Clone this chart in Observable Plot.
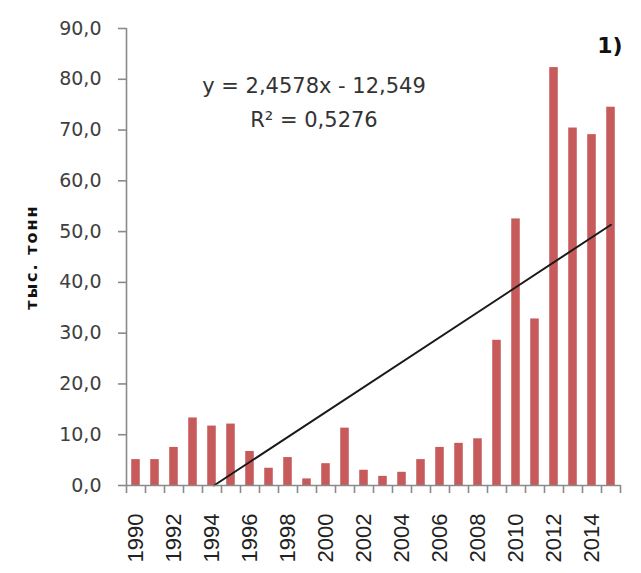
<!DOCTYPE html>
<html>
<head>
<meta charset="utf-8">
<script src="https://cdn.jsdelivr.net/npm/d3@7"></script>
<script src="https://cdn.jsdelivr.net/npm/@observablehq/plot@0.6"></script>
<style>
  body { margin: 0; background: #fff; }
</style>
</head>
<body>
<div id="chart"></div>
<script>
// Annual volumes, thousand tonnes
const years = [1990, 1991, 1992, 1993, 1994, 1995, 1996, 1997, 1998, 1999, 2000, 2001, 2002,
               2003, 2004, 2005, 2006, 2007, 2008, 2009, 2010, 2011, 2012, 2013, 2014, 2015];
const values = [5.1, 5.1, 7.5, 13.3, 11.7, 12.1, 6.7, 3.4, 5.5, 1.3, 4.3, 11.3, 3.0,
                1.8, 2.6, 5.1, 7.5, 8.3, 9.2, 28.6, 52.5, 32.8, 82.3, 70.4, 69.1, 74.5];
const yTicks = [0, 10, 20, 30, 40, 50, 60, 70, 80, 90];
const yearLabels = [1990, 1992, 1994, 1996, 1998, 2000, 2002, 2004, 2006, 2008, 2010, 2012, 2014];

// Linear trend (x = 1 for the first year)
const trendSlope = 2.4578;
const trendIntercept = -12.549;
const trendR2 = 0.5276;

const yTitle = "тыс. тонн";
const panelTag = "1)";

const comma = n => String(n).replace(".", ",");
const data = years.map((year, i) => ({year, value: values[i]}));

// Trend line: from where it crosses zero up to the last year
const base = years[0] - 1;
const last = years[years.length - 1];
const trend = [
  {year: base - trendIntercept / trendSlope, value: 0},
  {year: last, value: trendSlope * (last - base) + trendIntercept}
];
const boundaries = years.map(y => y - 0.5).concat([last + 0.5]);
const half = 0.225;
const axisGray = "#8a8a8a";

const chart = Plot.plot({
  width: 641,
  height: 573,
  marginLeft: 126,
  marginRight: 21,
  marginTop: 28,
  marginBottom: 88,
  style: {fontFamily: "DejaVu Sans", background: "#fff", color: "#333"},
  x: {type: "linear", domain: [years[0] - 0.5, last + 0.5], label: null},
  y: {domain: [0, 90], label: null},
  marks: [
    Plot.rectY(data, {x1: d => d.year - half, x2: d => d.year + half, y1: 0, y2: "value", fill: "#C75B5B"}),
    Plot.line(trend, {x: "year", y: "value", stroke: "#1a1a1a", strokeWidth: 2}),
    Plot.ruleX([years[0] - 0.5], {stroke: axisGray, strokeWidth: 1.6}),
    Plot.ruleY([0], {stroke: axisGray, strokeWidth: 1.6}),
    Plot.axisY({ticks: yTicks, tickSize: 8, tickPadding: 17, fontSize: 19,
                tickFormat: d => d.toFixed(1).replace(".", ","),
                stroke: axisGray, strokeWidth: 1.6, fill: "#404040", label: null}),
    Plot.axisX({ticks: boundaries, tickSize: 8, tickFormat: () => "",
                stroke: axisGray, strokeWidth: 1.6, label: null}),
    Plot.axisX({ticks: yearLabels, tickSize: 0, tickPadding: 28, tickRotate: -90,
                fontSize: 22, fontFamily: "Liberation Sans", fill: "#222",
                tickFormat: d => String(d), label: null}),
    Plot.text([`y = ${comma(trendSlope)}x - ${comma(-trendIntercept)}\nR² = ${comma(trendR2)}`], {
      frameAnchor: "top", dx: -59.5, dy: 41, lineAnchor: "top", lineHeight: 1.6,
      fontSize: 21, fill: "#333"
    }),
    Plot.text([panelTag], {
      frameAnchor: "top-right", textAnchor: "end", lineAnchor: "top", dx: 2, dy: 9,
      fontSize: 22, fontWeight: "bold", fill: "#111"
    }),
    Plot.text([yTitle], {
      frameAnchor: "left", textAnchor: "middle", rotate: -90, dx: -95,
      fontSize: 16, fontWeight: "bold", fill: "#111"
    })
  ]
});

// Widen the rotated axis title a little
d3.select(chart).selectAll("text")
  .filter(function () { return this.textContent === yTitle; })
  .style("letter-spacing", "2px");

document.getElementById("chart").appendChild(chart);
</script>
</body>
</html>
